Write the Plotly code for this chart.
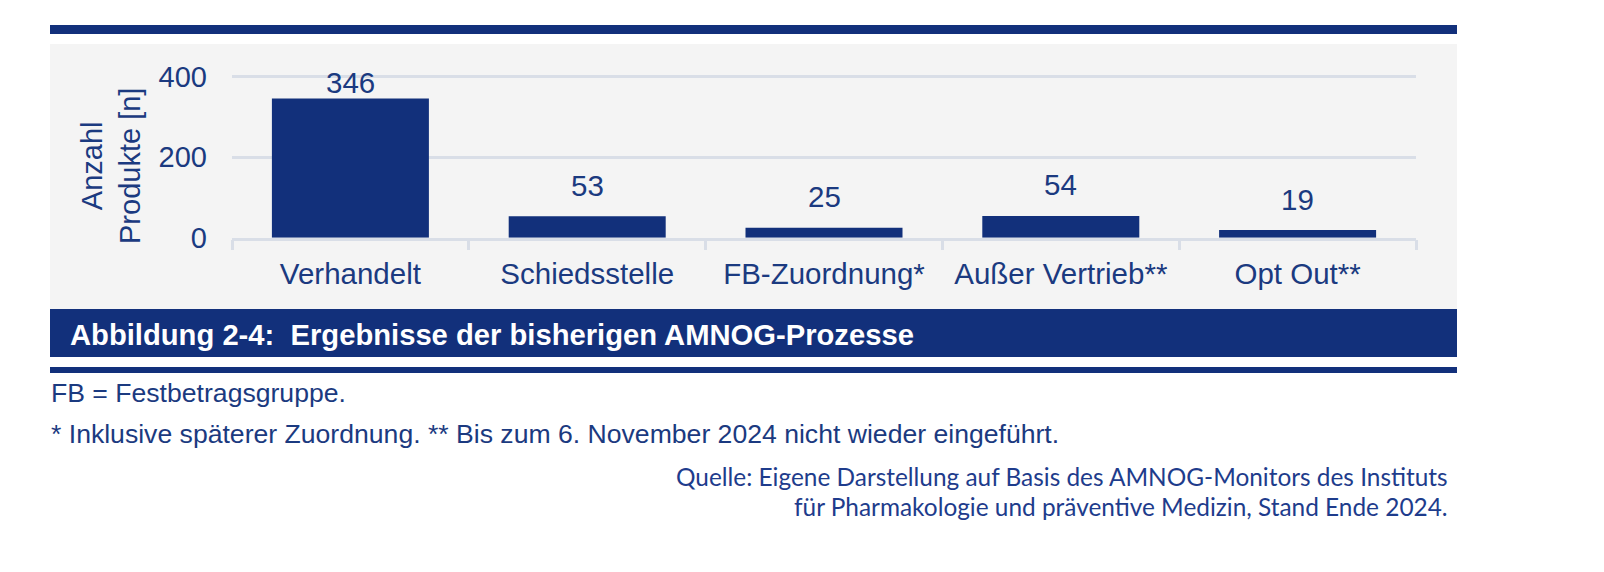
import plotly.graph_objects as go

# ---- data ----
categories = ["Verhandelt", "Schiedsstelle", "FB-Zuordnung*", "Außer Vertrieb**", "Opt Out**"]
values = [346, 53, 25, 54, 19]
y_ticks = [0, 200, 400]

caption = "Abbildung 2-4:  Ergebnisse der bisherigen AMNOG-Prozesse"
footnote1 = "FB = Festbetragsgruppe."
footnote2 = "* Inklusive späterer Zuordnung. ** Bis zum 6. November 2024 nicht wieder eingeführt."
source1 = "Quelle: Eigene Darstellung auf Basis des AMNOG-Monitors des Instituts"
source2 = "für Pharmakologie und präventive Medizin, Stand Ende 2024."
y_title = "Anzahl<br>Produkte [n]"

# ---- style ----
W, H = 1604, 572
BLUE = "#12307b"
TEXT = "#1b3a80"
SRC = "#1e3c8c"
PANEL = "#f4f4f4"
GRID = "#d9dee7"
FONT = "Arial, Liberation Sans, sans-serif"
Y_MAX = 420          # axis range top (gridline at 400 stays inside)
PX_PER_UNIT = 80.5 / 200
Y0_PX = 237.7


def px(x):
    return x / W


def py(y):
    return 1 - y / H


fig = go.Figure()
fig.add_trace(go.Bar(
    x=categories, y=values, marker=dict(color=BLUE, line=dict(width=0)),
    hoverinfo="skip", showlegend=False,
))

shapes = []
for (x0, y0, x1, y1, col) in [
    (50, 25, 1457, 34, BLUE),
    (50, 44, 1457, 309, PANEL),
    (50, 309, 1457, 357, BLUE),
    (50, 367, 1457, 373, BLUE),
]:
    shapes.append(dict(type="rect", xref="paper", yref="paper",
                       x0=px(x0), x1=px(x1), y0=py(y1), y1=py(y0),
                       fillcolor=col, line=dict(width=0), layer="below"))

ann = []
# bar value labels
offset_units = 77
clamp_units = 386
for c, v in zip(categories, values):
    ann.append(dict(x=c, y=min(v + offset_units, clamp_units), xref="x", yref="y",
                    text=str(v), showarrow=False, yanchor="middle",
                    font=dict(family=FONT, size=29.5, color=TEXT)))

ann.append(dict(x=px(111), y=py(166), xref="paper", yref="paper", text=y_title,
                textangle=-90, showarrow=False, xanchor="center", yanchor="middle",
                align="center", font=dict(family=FONT, size=29, color=TEXT)))
ann.append(dict(x=px(68), y=py(334.5), xref="paper", yref="paper", text="<b>" + caption + "</b>",
                showarrow=False, xanchor="left", yanchor="middle",
                font=dict(family=FONT, size=29.2, color="white")))
ann.append(dict(x=px(49), y=py(393), xref="paper", yref="paper", text=footnote1,
                showarrow=False, xanchor="left", yanchor="middle",
                font=dict(family=FONT, size=26.6, color=TEXT)))
ann.append(dict(x=px(49), y=py(433.5), xref="paper", yref="paper", text=footnote2,
                showarrow=False, xanchor="left", yanchor="middle",
                font=dict(family=FONT, size=26.6, color=TEXT)))
ann.append(dict(x=px(1450), y=py(476), xref="paper", yref="paper", text=source1,
                showarrow=False, xanchor="right", yanchor="middle",
                font=dict(family="Lato, Carlito, sans-serif", size=24.4, color=SRC)))
ann.append(dict(x=px(1450), y=py(506), xref="paper", yref="paper", text=source2,
                showarrow=False, xanchor="right", yanchor="middle",
                font=dict(family="Lato, Carlito, sans-serif", size=24.4, color=SRC)))

fig.update_layout(
    template="none",
    width=W, height=H, autosize=False,
    margin=dict(l=0, r=0, t=0, b=0, pad=0, autoexpand=False),
    paper_bgcolor="white",
    plot_bgcolor="rgba(0,0,0,0)",
    bargap=0.337,
    shapes=shapes,
    annotations=ann,
    showlegend=False,
    xaxis=dict(
        domain=[px(232), px(1416)],
        type="category",
        automargin=False,
        showline=True, linecolor=GRID, linewidth=2.5,
        ticks="outside", tickson="boundaries", ticklen=10, tickwidth=2.5, tickcolor=GRID,
        showgrid=False, zeroline=False,
        tickfont=dict(family=FONT, size=29.5, color=TEXT),
        ticklabelstandoff=8,
        fixedrange=True,
    ),
    yaxis=dict(
        domain=[py(Y0_PX), py(Y0_PX - Y_MAX * PX_PER_UNIT)],
        range=[0, Y_MAX],
        automargin=False,
        tickvals=y_ticks,
        showgrid=True, gridcolor=GRID, gridwidth=2.5,
        zeroline=False, showline=False, ticks="",
        tickfont=dict(family=FONT, size=29, color=TEXT),
        ticklabelstandoff=24,
        fixedrange=True,
    ),
)

fig.write_html("out.html", config={"displayModeBar": False},
               post_script="document.body.style.margin='0';")
